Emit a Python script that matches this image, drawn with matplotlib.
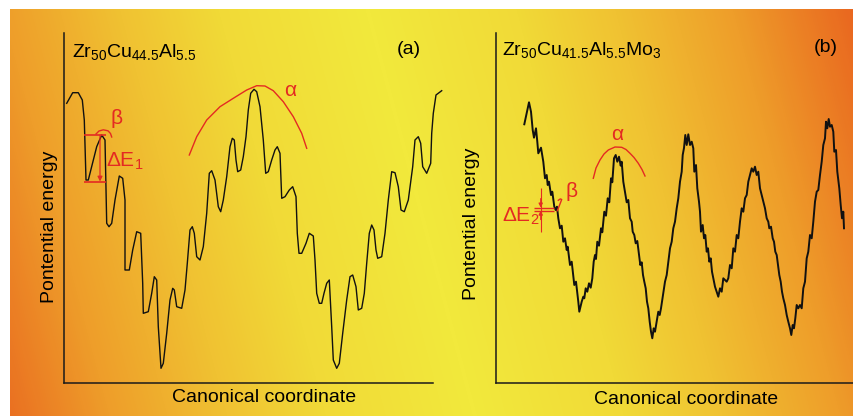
import numpy as np
import matplotlib
matplotlib.use("Agg")
import matplotlib.pyplot as plt
from matplotlib.colors import LinearSegmentedColormap

plt.rcParams["font.family"] = ["Liberation Sans", "DejaVu Sans"]
plt.rcParams["mathtext.fontset"] = "custom"
plt.rcParams["mathtext.rm"] = "Liberation Sans"
plt.rcParams["mathtext.it"] = "Liberation Sans"

W, H = 854, 416
RED = "#E42A22"

# ── Schematic curves, traced in picture pixels (x right, y down) ─────────────
curve_a_x = [66.7, 72.7, 78.3, 82.3, 84.3, 86, 88.3, 91.7, 96.7, 101.7, 105, 106, 106.7, 109,
             111.7, 115, 119.3, 122.7, 125, 125, 129.3, 132.7, 136.7, 140.7, 142.7, 143.3, 148.3,
             151.7, 154.3, 156.7, 158.3, 161, 163.3, 166.7, 170, 172.7, 174.3, 176.7, 181.7, 185,
             187.3, 190, 192.3, 194.3, 196.7, 200, 203.3, 206.7, 209.3, 211.7, 215, 218.3, 220.7,
             223.3, 226.7, 230, 232.3, 234.3, 236, 237.7, 240.7, 243.3, 246, 248.3, 250.7, 254,
             256.7, 260, 263.3, 265.7, 268.3, 271.7, 275, 277.3, 280, 281.7, 285, 289.3, 292.7,
             296, 297.3, 299, 301.7, 306, 309.3, 313.3, 315, 316.7, 319.3, 321.7, 324, 326.7,
             329.3, 331.7, 333.3, 336.7, 339.3, 342.7, 346.7, 350, 352.7, 356, 358.3, 361.7,
             364.3, 366.7, 369.3, 371.7, 374, 376, 377.7, 381.7, 385, 388.3, 391.7, 395, 398.3,
             401, 404.3, 408.3, 412.7, 415, 418.3, 420.7, 422.7, 426.7, 430.7, 431.7, 433.3, 436,
             441.7]
curve_a_y = [103.3, 92.7, 92.7, 100, 120, 180, 180, 166.7, 146.7, 135, 140, 186.7, 223.3, 226.7,
             223.3, 200, 176, 178.3, 200, 270, 270, 250, 231.7, 233.3, 283.3, 313.3, 311.7,
             293.3, 276.7, 280, 326.7, 368.3, 363.3, 333.3, 300, 288.3, 290, 306.7, 308.3, 290,
             263.3, 230, 226.7, 233.3, 256.7, 260, 246.7, 213.3, 173.3, 170.7, 180, 206.7, 211.7,
             200, 176.7, 146.7, 138.3, 140, 160, 171.7, 170, 156.7, 136.7, 110, 93.3, 89.3,
             91.7, 106.7, 140, 173.3, 171.7, 160, 150, 146.7, 153.3, 198.3, 196.7, 190, 186.7,
             196.7, 233.3, 253.3, 253.3, 243.3, 233.3, 236, 260, 293.3, 303.3, 303.3, 293.3, 283.3,
             280, 326.7, 360, 368.3, 363.3, 333.3, 300, 276.7, 275, 286.7, 310, 308.3,
             293.3, 263.3, 233.3, 225, 230, 250, 258.3, 256.7, 233.3, 200, 171.7, 172.7, 186.7,
             210, 211.7, 200, 166.7, 140, 136.7, 143.3, 166.7, 173.3, 163.3, 133.3, 113.3, 95,
             90.7]

curve_b_x = [524.3, 529, 531, 532.7, 534, 536, 537.3, 538.3, 541, 543.3, 545, 546.7, 547.7, 549,
             551, 552.3, 554.3, 555.7, 557, 558.3, 560, 561.7, 563.3, 565, 566.7, 567.7, 570,
             571.7, 574.3, 576, 578.3, 579.3, 581.7, 583.3, 584.3, 585.7, 587.3, 589, 590.7,
             592.3, 593.7, 595, 596, 597.3, 599, 601, 602.3, 604.3, 606, 607.7, 609.3, 611,
             612.3, 614, 615.7, 617.3, 619, 620.7, 621.7, 623.3, 625, 626.7, 628.3, 630, 631.7,
             632.7, 634.3, 635.7, 637.3, 639, 640.3, 641.7, 643, 644.3, 645.7, 647, 648.3, 649.7,
             651, 652.3, 653.7, 655, 656.7, 658.3, 659.7, 661, 663, 665, 666.7, 668.3, 670,
             671.7, 673.3, 675, 676.7, 678.3, 680, 681.7, 682.7, 684, 685.3, 686.7, 688.3, 690,
             691.7, 693.3, 694.3, 696, 697.3, 699, 700, 701, 702.7, 704, 705.3, 706.7, 708,
             709.3, 710.7, 712, 713.3, 715, 716.7, 718.3, 720, 721.7, 723.3, 725, 726.7, 728.3,
             730, 731.7, 733.3, 735, 736.7, 738.3, 740, 741.7, 743.3, 745, 746.7, 748.3, 750,
             751.7, 753.3, 755, 756.7, 758.3, 760, 761.7, 763.3, 765, 766.7, 768.3, 769.3, 771,
             772.7, 774, 775.3, 776.7, 778, 779.3, 780.7, 782, 783.3, 785, 786.7, 788.3, 790,
             791.3, 792.7, 794, 795.3, 796.7, 798.3, 800, 801.7, 803.3, 805, 806.7, 808.3, 810,
             811.7, 813.3, 815, 816.7, 818.3, 820, 821.7, 823.3, 825, 826, 827.3, 828.7, 830,
             831.7, 833.3, 834.3, 836, 837.3, 839.3, 840.7, 842, 843.3, 844]
curve_b_y = [124.3, 102.3, 111.7, 130, 137.7, 128.3, 141.7, 153.3, 147.7, 161.7, 178.3, 175, 185,
             181.7, 195, 191.7, 206.7, 210, 206.7, 218.3, 228.3, 225.7, 241.7, 238.3, 250, 246.7,
             265, 261.7, 285, 281.7, 301.7, 311.7, 301.7, 296.7, 298.3, 288.3, 291.7, 283.3,
             287.7, 278.3, 261.7, 255, 259, 241.7, 245.7, 228.3, 232.3, 211.7, 215.7, 198.3,
             202.3, 178.3, 182.3, 158.3, 155, 161.7, 156.7, 165.7, 161.7, 181.7, 191.7, 202.3,
             200, 218.3, 221.7, 231.7, 235, 243.3, 241, 255, 265, 262.3, 275, 281.7, 288.3,
             301.7, 308.3, 321.7, 331.7, 338.3, 328.3, 331.7, 321.7, 311.7, 315, 308.3, 295,
             281.7, 275, 261.7, 248.3, 241.7, 228.3, 221.7, 208.3, 198.3, 181.7, 171.7, 155,
             148, 135, 145, 134.3, 145, 141.7, 148.3, 171.7, 165, 188.3, 201.7, 211.7, 231.7,
             225, 238.3, 235, 251.7, 248.3, 261.7, 258.3, 271.7, 278.3, 286.7, 291.7, 296.7,
             288.3, 291.7, 278.3, 280, 281.7, 278.3, 265, 268.3, 248.3, 251.7, 235, 238.3, 221.7,
             208.3, 211.7, 198.3, 195, 181.7, 175, 168.3, 171.7, 166.7, 175, 171.7, 188.3, 195,
             201.7, 208.3, 218.3, 221.7, 228.3, 226.7, 238.3, 241.7, 251.7, 255, 265, 275, 281.7,
             291.7, 298.3, 305, 315, 321.7, 328.3, 335, 325, 328.3, 318.3, 305, 308.3, 305,
             308.3, 288.3, 281.7, 258.3, 251.7, 235, 238.3, 221.7, 201.7, 191.7, 190, 175, 161.7,
             145, 138.3, 121.7, 128.3, 119, 126.7, 125, 131.7, 151.7, 150, 171.7, 188.3, 205,
             218.3, 211.7, 228.3]

# ── Red annotation marks ─────────────────────────────────────────────────────
alpha_a_x = [189.3, 196.7, 206.7, 220, 233.3, 246.7, 256.7, 265, 273.3, 283.3, 293.3, 301.7, 306.7]
alpha_a_y = [155, 136.7, 120, 106.7, 98.3, 90, 85.7, 86, 90.7, 101.7, 116.7, 133.3, 148.3]
beta_a_x = [96, 99, 103.3, 108, 110.5, 111.7]
beta_a_y = [134, 131, 129.8, 130.8, 133.5, 137]
dE1_levels = [135, 181.5]
dE1_x0, dE1_x1, dE1_arrow_x = 84.5, 106, 100

alpha_b_x = [593.3, 596, 600, 604, 608.3, 615, 621.7, 626, 630, 634, 638.3, 642, 645]
alpha_b_y = [178.3, 168, 160, 154, 150, 147, 147.3, 149.5, 153.3, 157.5, 163.3, 169.5, 176]
beta_b_x = [557.3, 559.6, 561.7, 560.3, 558.3]
beta_b_y = [210.7, 205, 199.5, 198.9, 200.3]
dE2_levels = [207.6, 210.6]
dE2_x0, dE2_x1, dE2_arrow_x = 534.3, 554.3, 540.7
dE2_span = [188.3, 231.7]

# ── Figure and gradient background ───────────────────────────────────────────
fig = plt.figure(figsize=(W / 100, H / 100), dpi=100)
fig.patch.set_facecolor("white")
bg = fig.add_axes([0, 0, 1, 1])
bg.set_xlim(0, W)
bg.set_ylim(H, 0)
bg.axis("off")

grad = LinearSegmentedColormap.from_list(
    "bg", [(0.0, "#F2E93C"), (0.3, "#F1DA37"), (0.5, "#F0C232"),
           (0.74, "#EE9D2A"), (1.0, "#E9631F")])
xx, yy = np.meshgrid(np.arange(10, W) + 0.5, np.arange(9, H) + 0.5)
centre = 365 + (475 - 365) * yy / H
dist = np.clip(np.abs(xx - centre) / 495, 0, 1)
bg.imshow(grad(dist), extent=(10, W, H, 9), aspect="auto", interpolation="bilinear")


def panel(x0, x1, y_top, y_bot):
    ax = fig.add_axes([x0 / W, (H - y_bot) / H, (x1 - x0) / W, (y_bot - y_top) / H])
    ax.set_xlim(x0, x1)
    ax.set_ylim(y_bot, y_top)
    ax.patch.set_alpha(0)
    for s in ("top", "right"):
        ax.spines[s].set_visible(False)
    for s in ("left", "bottom"):
        ax.spines[s].set_linewidth(1.1)
        ax.spines[s].set_color("#1a1a1a")
    ax.set_xticks([])
    ax.set_yticks([])
    return ax


ax_a = panel(64.5, 433, 33, 383)
ax_b = panel(496, 854, 33, 383)

# ── Panel (a) ────────────────────────────────────────────────────────────────
ax_a.plot(curve_a_x, curve_a_y, color="#111111", lw=1.0, clip_on=False)
ax_a.plot(alpha_a_x, alpha_a_y, color=RED, lw=1.0)
ax_a.plot(beta_a_x, beta_a_y, color=RED, lw=1.0)
ax_a.hlines(dE1_levels, dE1_x0, dE1_x1, color=RED, lw=1.2)
ax_a.annotate("", xy=(dE1_arrow_x, dE1_levels[1]), xytext=(dE1_arrow_x, dE1_levels[0]),
              arrowprops=dict(arrowstyle="-|>", color=RED, lw=0.9, mutation_scale=7,
                              shrinkA=0, shrinkB=0))
ax_a.text(72.5, 57, "Zr$_{50}$Cu$_{44.5}$Al$_{5.5}$", fontsize=14, va="baseline")
ax_a.text(409, 50, "(a)", fontsize=14, ha="center", va="center")
ax_a.text(290, 91, "α", fontsize=15, color=RED, ha="center", va="center")
ax_a.text(116.5, 118, "β", fontsize=15, color=RED, ha="center", va="center")
ax_a.text(106.5, 167, "ΔE$_{1}$", fontsize=15, color=RED, va="baseline")
ax_a.set_xlabel("Canonical coordinate", fontsize=14)
ax_a.xaxis.set_label_coords((264 - 64.5) / 368.5, (383 - 398) / 350)
ax_a.xaxis.label.set_va("center")
ax_a.set_ylabel("Pontential energy", fontsize=14)
ax_a.yaxis.set_label_coords((50 - 64.5) / 368.5, (383 - 227) / 350)
ax_a.yaxis.label.set_va("center")

# ── Panel (b) ────────────────────────────────────────────────────────────────
ax_b.plot(curve_b_x, curve_b_y, color="#111111", lw=1.4, clip_on=False)
ax_b.plot(alpha_b_x, alpha_b_y, color=RED, lw=1.0)
ax_b.plot(beta_b_x, beta_b_y, color=RED, lw=1.0)
ax_b.hlines(dE2_levels, dE2_x0, dE2_x1, color=RED, lw=1.0)
ax_b.vlines(dE2_arrow_x, dE2_span[0], dE2_span[1], color=RED, lw=0.8)
ax_b.annotate("", xy=(dE2_arrow_x, dE2_levels[0]), xytext=(dE2_arrow_x, dE2_levels[0] - 9),
              arrowprops=dict(arrowstyle="-|>", color=RED, lw=0.8, mutation_scale=6,
                              shrinkA=0, shrinkB=0))
ax_b.annotate("", xy=(dE2_arrow_x, dE2_levels[1]), xytext=(dE2_arrow_x, dE2_levels[1] + 9),
              arrowprops=dict(arrowstyle="-|>", color=RED, lw=0.8, mutation_scale=6,
                              shrinkA=0, shrinkB=0))
ax_b.text(502, 55, "Zr$_{50}$Cu$_{41.5}$Al$_{5.5}$Mo$_{3}$", fontsize=14, va="baseline")
ax_b.text(826, 47, "(b)", fontsize=14, ha="center", va="center")
ax_b.text(616.7, 134, "α", fontsize=15, color=RED, ha="center", va="center")
ax_b.text(572, 191.5, "β", fontsize=15, color=RED, ha="center", va="center")
ax_b.text(502.5, 221.5, "ΔE$_{2}$", fontsize=15, color=RED, va="baseline")
ax_b.set_xlabel("Canonical coordinate", fontsize=14)
ax_b.xaxis.set_label_coords((686 - 496) / 358, (383 - 400) / 350)
ax_b.xaxis.label.set_va("center")
ax_b.set_ylabel("Pontential energy", fontsize=14)
ax_b.yaxis.set_label_coords((472 - 496) / 358, (383 - 224) / 350)
ax_b.yaxis.label.set_va("center")

fig.savefig("out.png", dpi=100, facecolor="white")
